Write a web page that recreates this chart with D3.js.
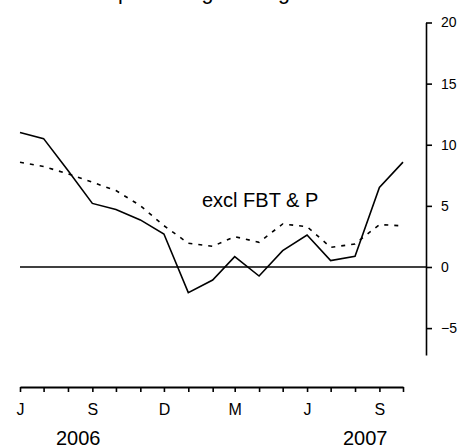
<!DOCTYPE html>
<html>
<head>
<meta charset="utf-8">
<script src="https://cdn.jsdelivr.net/npm/d3@7"></script>
<style>
  body { margin: 0; background: #fff; }
</style>
</head>
<body>
<script>
// monthly observations, Jun 2006 .. Oct 2007
let months = d3.range(17).map(i => new Date(2006, 5 + i, 1));
let headline = [11.0, 10.5, 7.9, 5.2, 4.7, 3.85, 2.7, -2.1, -1.07, 0.85, -0.74, 1.34, 2.62, 0.52, 0.87, 6.5, 8.58];
let exclFbt = [8.57, 8.22, 7.62, 6.93, 6.25, 5.02, 3.38, 1.94, 1.69, 2.48, 2.02, 3.52, 3.3, 1.61, 1.88, 3.47, 3.36];
let monthLabels = ['J', '', '', 'S', '', '', 'D', '', '', 'M', '', '', 'J', '', '', 'S', ''];
let years = [['2006', new Date(2006, 7, 14)], ['2007', new Date(2007, 7, 14)]];
let yTicks = [-5, 0, 5, 10, 15, 20];

let width = 459;
let height = 446;
let font = 'Liberation Sans, Arial, sans-serif';

let x = d3.scaleTime([months[0], months[16]], [20, 403]);
let y = d3.scaleLinear([-7.2, 20], [355, 22.5]);

let svg = d3.create('svg')
  .attr('width', width)
  .attr('height', height)
  .attr('font-family', font);

// title, mostly cropped off the top
svg.append('text')
  .text('Annual percentage change')
  .attr('x', 45)
  .attr('y', -1)
  .attr('font-size', 21.5);

// right hand axis
let yAxis = svg.append('g')
  .attr('transform', 'translate(426,0)')
  .call(d3.axisRight(y).tickValues(yTicks).tickSize(6).tickSizeOuter(0).tickPadding(9));
yAxis.select('.domain').attr('stroke-width', 1.6);
yAxis.selectAll('.tick line').attr('stroke-width', 1.6);
yAxis.selectAll('.tick text').attr('font-size', 14).attr('font-family', font).attr('fill', '#000');

// zero line
svg.append('line')
  .attr('x1', 20)
  .attr('x2', 426)
  .attr('y1', y(0))
  .attr('y2', y(0))
  .attr('stroke', '#000')
  .attr('stroke-width', 1.6);

// bottom axis
let xAxis = svg.append('g')
  .attr('transform', 'translate(0,387)')
  .call(d3.axisBottom(x).tickValues(months).tickSize(5).tickSizeOuter(0).tickPadding(12)
    .tickFormat((d, i) => monthLabels[i]));
xAxis.select('.domain').attr('stroke-width', 1.8);
xAxis.selectAll('.tick line').attr('stroke-width', 1.6);
xAxis.selectAll('.tick text').attr('font-size', 16).attr('font-family', font).attr('fill', '#000');

svg.append('g')
  .selectAll('text')
  .data(years)
  .join('text')
  .text(d => d[0])
  .attr('x', d => x(d[1]))
  .attr('y', 445)
  .attr('text-anchor', 'middle')
  .attr('font-size', 20);

let line = d3.line()
  .x((d, i) => x(months[i]))
  .y(d => y(d));

svg.append('path')
  .datum(exclFbt)
  .attr('d', line)
  .attr('fill', 'none')
  .attr('stroke', '#000')
  .attr('stroke-width', 1.6)
  .attr('stroke-dasharray', '4,6');

svg.append('path')
  .datum(headline)
  .attr('d', line)
  .attr('fill', 'none')
  .attr('stroke', '#000')
  .attr('stroke-width', 1.6);

svg.append('text')
  .text('excl FBT & P')
  .attr('x', 202)
  .attr('y', 207)
  .attr('font-size', 20);

document.body.append(svg.node());
</script>
</body>
</html>
